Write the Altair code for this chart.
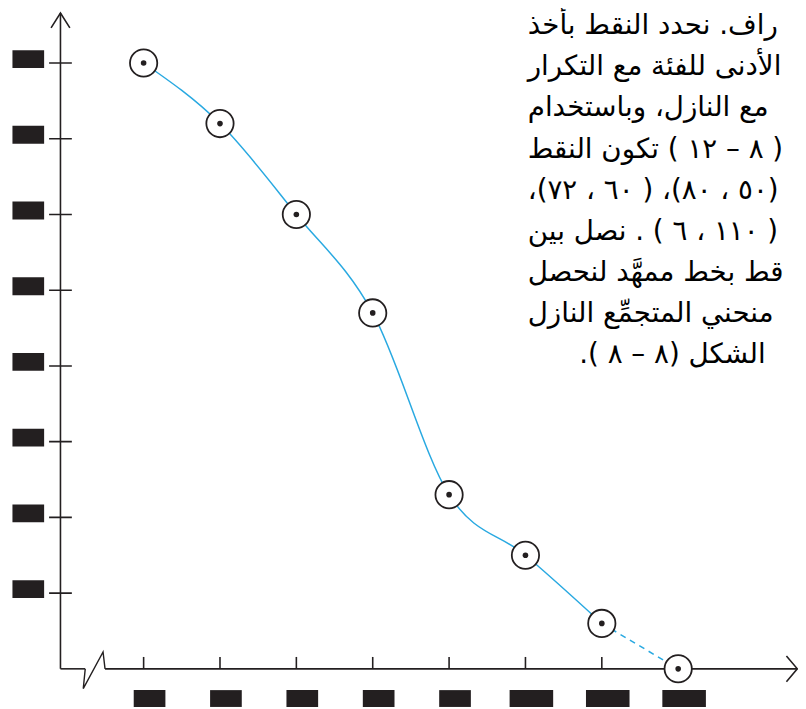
import altair as alt
import pandas as pd

# ---------------- data ----------------
x_vals = [50, 60, 70, 80, 90, 100, 110, 120]          # class lower bounds
y_vals = [80, 72, 60, 47, 23, 15, 6, 0]                # descending cumulative frequency
x_ticks = [50, 60, 70, 80, 90, 100, 110, 120]
y_ticks = [10, 20, 30, 40, 50, 60, 70, 80]
text_lines = [
    "راف. نحدد النقط بأخذ",
    "الأدنى للفئة مع التكرار",
    "مع النازل، وباستخدام",
    "( ٨ – ١٢ ) تكون النقط",
    "(٥٠ ، ٨٠)، ( ٦٠ ، ٧٢)،",
    "( ١١٠ ، ٦ ) . نصل بين",
    "قط بخط ممهَّد لنحصل",
    "منحني المتجمِّع النازل",
]
last_line = "الشكل (٨ – ٨ )."

# ---------------- layout / style constants ----------------
W, H = 798, 701
X_DOMAIN = [32.24, 135.69]
Y_DOMAIN = [-4.84, 86.8]
AXIS_X = 39.11      # where the vertical axis stands (x units)
BREAK_X = 43.65     # centre of the axis break
X_END = 135.6
Y_TOP = 86.6
INK = "#231f20"
BLUE = "#29a9e1"
AR_FONT = "DejaVu Sans"
RLI, PDI = "\u2067", "\u2069"
FS = 28

xs = alt.Scale(domain=X_DOMAIN, nice=False, zero=False)
ys = alt.Scale(domain=Y_DOMAIN, nice=False, zero=False)


def X(f):
    return alt.X(f, type="quantitative", scale=xs, axis=None)


def Y(f):
    return alt.Y(f, type="quantitative", scale=ys, axis=None)


pts = pd.DataFrame({"x": x_vals, "y": y_vals})
solid = pts.iloc[:7]
dashed = pts.iloc[6:]

curve = alt.Chart(solid).mark_line(interpolate="monotone", color=BLUE, strokeWidth=1.5).encode(
    x=X("x"), y=Y("y"))
curve_d = alt.Chart(dashed).mark_line(color=BLUE, strokeWidth=1.5, strokeDash=[6, 5]).encode(
    x=X("x"), y=Y("y"))

# axes
yaxis_df = pd.DataFrame({"x": [AXIS_X], "y": [0.0], "y2": [Y_TOP]})
yaxis = alt.Chart(yaxis_df).mark_rule(color=INK, strokeWidth=1.6).encode(
    x=X("x"), y=Y("y"), y2="y2")

xa1_df = pd.DataFrame({"x": [AXIS_X], "x2": [BREAK_X], "y": [0.0]})
xaxis1 = alt.Chart(xa1_df).mark_rule(color=INK, strokeWidth=1.6, x2Offset=-10).encode(
    x=X("x"), x2="x2", y=Y("y"))
xa2_df = pd.DataFrame({"x": [BREAK_X], "x2": [X_END], "y": [0.0]})
xaxis2 = alt.Chart(xa2_df).mark_rule(color=INK, strokeWidth=1.6, xOffset=10).encode(
    x=X("x"), x2="x2", y=Y("y"))

brk_df = pd.DataFrame({"x": [BREAK_X], "y": [0.0]})
brk = alt.Chart(brk_df).mark_point(
    shape="M-1,0L-1.2,2L0.8,-1.7L1,0", filled=False, color=INK, strokeWidth=1.4,
    size=400, opacity=1).encode(x=X("x"), y=Y("y"))

up_df = pd.DataFrame({"x": [AXIS_X], "y": [Y_TOP]})
up_arrow = alt.Chart(up_df).mark_point(
    shape="M-0.95,1.5L0,0L0.95,1.5", filled=False, color=INK, strokeWidth=1.6,
    size=400, opacity=1).encode(x=X("x"), y=Y("y"))
rt_df = pd.DataFrame({"x": [X_END], "y": [0.0]})
rt_arrow = alt.Chart(rt_df).mark_point(
    shape="M-1.1,-1.3L0,0L-1.1,1.3", filled=False, color=INK, strokeWidth=1.6,
    size=400, opacity=1).encode(x=X("x"), y=Y("y"))

# ticks
yt_df = pd.DataFrame({"t": y_ticks, "ax": [AXIS_X] * len(y_ticks)})
ytick = alt.Chart(yt_df).mark_tick(orient="horizontal", size=23, thickness=1.6, color=INK, opacity=1).encode(
    x=X("ax"), y=Y("t"))
ylab = alt.Chart(yt_df).mark_tick(orient="horizontal", size=32, thickness=18, color=INK, opacity=1,
                                  xOffset=-32.5, yOffset=-4).encode(x=X("ax"), y=Y("t"))

xt_df = pd.DataFrame({"t": x_ticks, "ay": [0.0] * len(x_ticks)})
xtick = alt.Chart(xt_df).mark_tick(orient="vertical", size=12, thickness=1.6, color=INK, opacity=1,
                                   yOffset=-6).encode(x=X("t"), y=Y("ay"))
xlab = alt.Chart(xt_df).transform_calculate(w="datum.t >= 100 ? 44 : 32").mark_tick(
    orient="horizontal", thickness=17, color=INK, opacity=1, xOffset=6, yOffset=30).encode(
    x=X("t"), y=Y("ay"), size=alt.Size("w:Q", scale=None, legend=None))

# points
rings = alt.Chart(pts).mark_point(shape="circle", filled=True, fill="white", stroke=INK,
                                  strokeWidth=1.8, size=760, opacity=1).encode(x=X("x"), y=Y("y"))
dots = alt.Chart(pts).mark_point(shape="circle", filled=True, color=INK, size=32, opacity=1).encode(
    x=X("x"), y=Y("y"))

main = alt.layer(curve, curve_d, yaxis, xaxis1, xaxis2, brk, up_arrow, rt_arrow,
                 ytick, ylab, xtick, xlab, rings, dots)

# paragraph text beside the figure
txt_df = pd.DataFrame({"row": list(range(len(text_lines))),
                       "s": [RLI + s + PDI for s in text_lines]})
row_scale = alt.Scale(domain=[0, 8], range=[15, 347])
para = alt.Chart(txt_df).mark_text(align="left", baseline="middle", font=AR_FONT, fontSize=FS,
                                   color="#000000").encode(
    x=alt.value(525),
    y=alt.Y("row:Q", scale=row_scale, axis=None),
    text="s:N")
last_df = pd.DataFrame({"row": [8], "s": [RLI + last_line + PDI]})
para_last = alt.Chart(last_df).mark_text(align="left", baseline="middle", font=AR_FONT, fontSize=FS,
                                         color="#000000").encode(
    x=alt.value(577),
    y=alt.Y("row:Q", scale=row_scale, axis=None),
    text="s:N")

chart = alt.layer(main, para, para_last).resolve_scale(y="independent").properties(
    width=W, height=H, padding=0, autosize=alt.AutoSizeParams(type="none"),
    background="white").configure_view(stroke=None)

chart.save("out.html", embed_options={"renderer": "svg", "actions": False})
